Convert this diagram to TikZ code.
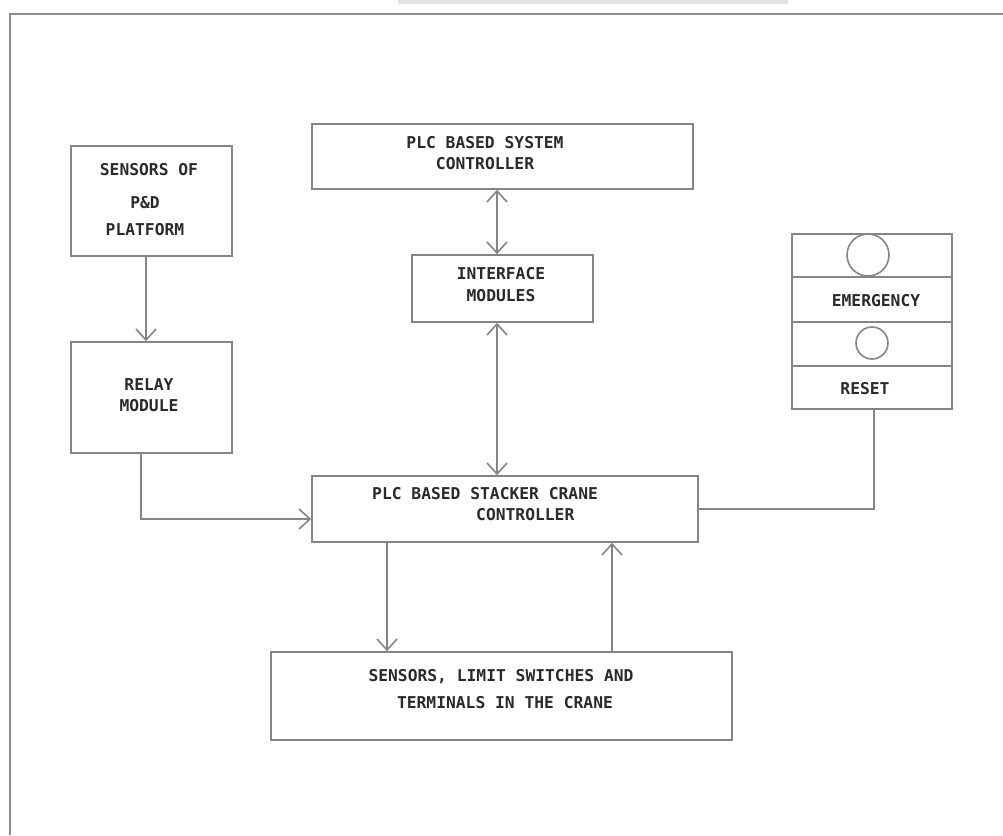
\documentclass[tikz,border=0pt]{standalone}
\usepackage{fontspec}
\newfontfamily\lbfont{DejaVu Sans Mono}[BoldFont={DejaVu Sans Mono Bold}]
\usetikzlibrary{arrows.meta}
\definecolor{linegray}{HTML}{858585}
\definecolor{framegray}{HTML}{8E8E8E}
\definecolor{textgray}{HTML}{2A2A2A}
\begin{document}
\begin{tikzpicture}[x=1pt,y=-1pt,
  box/.style={draw=linegray, line width=1.6pt, inner sep=0pt},
  lbl/.style={text=textgray, font=\lbfont\bfseries\fontsize{16.3}{20}\selectfont, inner sep=0pt, anchor=base},
  conn/.style={draw=linegray, line width=1.6pt},
  arr/.style={conn, -{Straight Barb[length=11pt,width=20pt]}},
  darr/.style={conn, {Straight Barb[length=11pt,width=20pt]}-{Straight Barb[length=11pt,width=20pt]}}
]
\useasboundingbox (0,0) rectangle (1003,835);
% faint remnant bar and frame
\fill[gray!22] (398,0) rectangle (788,3.5);
\draw[framegray, line width=2.5pt] (10,835) -- (10,14) -- (1003,14);

% boxes
\node[box, minimum width=161pt, minimum height=110pt] (sens) at (151.5,201) {};
\node[box, minimum width=161pt, minimum height=111pt] (relay) at (151.5,397.5) {};
\node[box, minimum width=381pt, minimum height=65pt] (sys) at (502.5,156.5) {};
\node[box, minimum width=181pt, minimum height=67pt] (iface) at (502.5,288.5) {};
\node[box, minimum width=160pt, minimum height=175pt] (panel) at (872,321.5) {};
\node[box, minimum width=386pt, minimum height=66pt] (crane) at (505,509) {};
\node[box, minimum width=461pt, minimum height=88pt] (bottom) at (501.5,696) {};

% panel details
\draw[conn] (panel.west |- 0,277) -- (panel.east |- 0,277);
\draw[conn] (panel.west |- 0,322) -- (panel.east |- 0,322);
\draw[conn] (panel.west |- 0,366) -- (panel.east |- 0,366);
\node[box, circle, minimum size=42pt] (bigbtn) at (868,255) {};
\node[box, circle, minimum size=32pt] (smallbtn) at (872,343) {};

% texts
\node[lbl] (s1) at (149,175) {SENSORS OF};
\node[lbl] (s2) at (145,208) {P\&D};
\node[lbl] (s3) at (145,235) {PLATFORM};
\node[lbl] (r1) at (149,390) {RELAY};
\node[lbl] (r2) at (149,411) {MODULE};
\node[lbl] (y1) at (485,148) {PLC BASED SYSTEM};
\node[lbl] (y2) at (485,169) {CONTROLLER};
\node[lbl] (i1) at (501,279) {INTERFACE};
\node[lbl] (i2) at (501,301) {MODULES};
\node[lbl, anchor=base west] (c1t) at (372,499) {PLC BASED STACKER CRANE};
\node[lbl, anchor=base west] (c2t) at (476,520) {CONTROLLER};
\node[lbl] (b1t) at (501,681) {SENSORS, LIMIT SWITCHES AND};
\node[lbl] (b2t) at (505,708) {TERMINALS IN THE CRANE};
\node[lbl] (e1) at (876,306) {EMERGENCY};
\node[lbl] (e2) at (865,394) {RESET};

% connectors
\coordinate (sa) at ([xshift=-5.5pt]sens.south);
\draw[arr] (sa) -- (sa |- relay.north);
\coordinate (ra) at ([xshift=-10.5pt]relay.south);
\coordinate (cw) at ([yshift=-10pt]crane.west);
\draw[arr] (ra) |- (cw);
\coordinate (ya) at ([xshift=-5.5pt]sys.south);
\draw[darr] (ya) -- (ya |- iface.north);
\coordinate (ia) at ([xshift=-5.5pt]iface.south);
\draw[darr] (ia) -- (ia |- crane.north);
\coordinate (cd) at ([xshift=-118pt]crane.south);
\draw[arr] (cd) -- (cd |- bottom.north);
\coordinate (bu) at ([xshift=110.5pt]bottom.north);
\draw[arr] (bu) -- (bu |- crane.south);
\coordinate (pa) at ([xshift=2pt]panel.south);
\draw[conn] (pa) |- (crane.east);
\end{tikzpicture}
\end{document}
